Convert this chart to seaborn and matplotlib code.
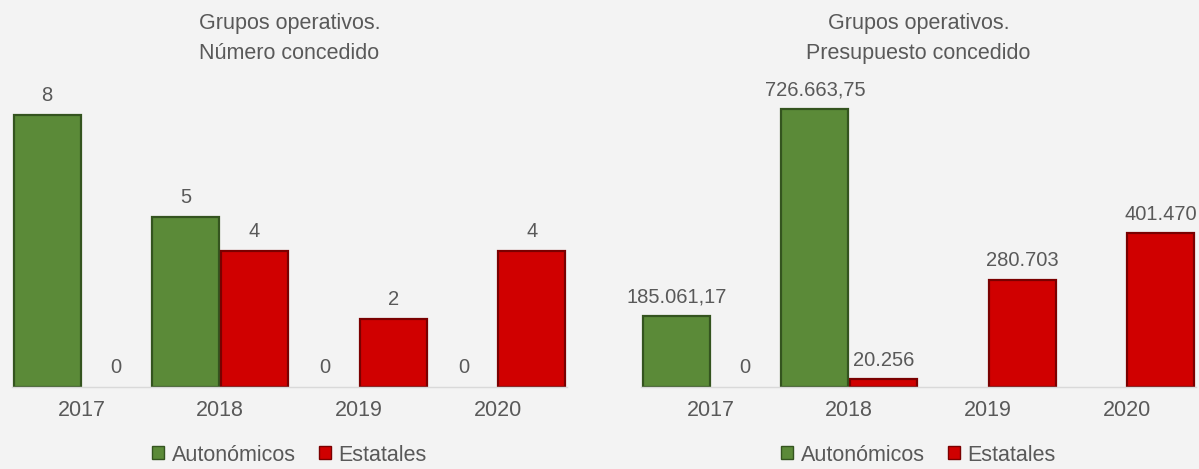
import numpy as np
import pandas as pd
import seaborn as sns
import matplotlib.pyplot as plt

years = ['2017', '2018', '2019', '2020']
tipos = ['Autonómicos', 'Estatales']
num_aut = [8, 5, 0, 0]
num_est = [0, 4, 2, 4]
pres_aut = [185061.17, 726663.75, 0, 0]
pres_est = [0, 20256, 280703, 401470]
pres_aut_labels = ['185.061,17', '726.663,75', '', '']
pres_est_labels = ['0', '20.256', '280.703', '401.470']
titles = ['Grupos operativos.\nNúmero concedido', 'Grupos operativos.\nPresupuesto concedido']

bg = '#f3f3f3'
txt = '#595959'
colors = {'Autonómicos': '#5b8a38', 'Estatales': '#d00000'}
edges = {'Autonómicos': '#34541f', 'Estatales': '#7a0000'}

sns.set_style('white')
plt.rcParams['font.family'] = ['Liberation Sans', 'DejaVu Sans']
plt.rcParams['text.color'] = txt


def long_df(aut, est):
    return pd.DataFrame({
        'year': years * 2,
        'tipo': [tipos[0]] * 4 + [tipos[1]] * 4,
        'value': list(aut) + list(est),
    })


def panel(ax, df, labels, ytop, title):
    sns.barplot(data=df, x='year', y='value', hue='tipo', hue_order=tipos,
                palette=colors, saturation=1, width=0.985, gap=0.02, ax=ax, legend=True)
    for cont, tipo, lab in zip(ax.containers, tipos, labels):
        for p in cont.patches:
            p.set_edgecolor(edges[tipo])
            p.set_linewidth(1.6 if p.get_height() > 0 else 0)
        ax.bar_label(cont, labels=lab, padding=7, fontsize=14.5, color=txt)
    ax.set_xlim(-0.5, 3.5)
    ax.set_ylim(0, ytop)
    ax.set_facecolor(bg)
    ax.set_xlabel('')
    ax.set_ylabel('')
    ax.set_yticks([])
    ax.tick_params(axis='x', length=0, pad=9, labelsize=15.5, labelcolor=txt)
    for s in ['top', 'left', 'right']:
        ax.spines[s].set_visible(False)
    ax.spines['bottom'].set_color('#d9d9d9')
    ax.spines['bottom'].set_linewidth(1)
    ax.text(0.5, 1.02, title, transform=ax.transAxes, ha='center', va='bottom',
            fontsize=15.5, color=txt, linespacing=1.55)
    leg = ax.legend(loc='center', bbox_to_anchor=(0.5, -0.2145), ncol=2,
                    frameon=False, fontsize=15.5, handlelength=0.55,
                    handleheight=0.55, handletextpad=0.35, columnspacing=1.1)
    for h, tipo in zip(leg.legend_handles, tipos):
        h.set_edgecolor(edges[tipo])
        h.set_linewidth(1.0)
    for t in leg.get_texts():
        t.set_color(txt)


fig = plt.figure(figsize=(11.99, 4.69), dpi=100, facecolor=bg)
ax1 = fig.add_axes([0.010, 0.1748, 0.463, 0.676])
ax2 = fig.add_axes([0.5346, 0.1748, 0.463, 0.676])

num_labels = [[str(v) for v in num_aut], [str(v) for v in num_est]]
panel(ax1, long_df(num_aut, num_est), num_labels, 9.32, titles[0])
panel(ax2, long_df(pres_aut, pres_est), [pres_aut_labels, pres_est_labels], 828600, titles[1])

fig.savefig('out.png', dpi=100, facecolor=bg)
